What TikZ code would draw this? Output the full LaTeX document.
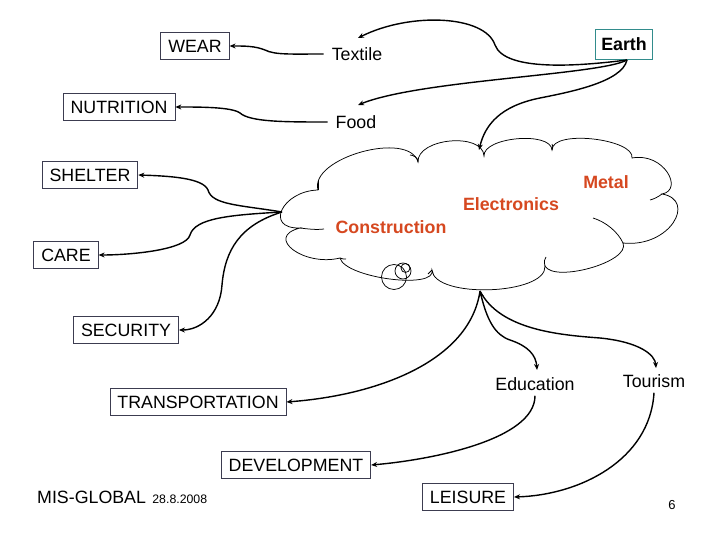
\documentclass[tikz,border=0pt]{standalone}
\usepackage{fontspec}
\setmainfont{Liberation Sans}
\usetikzlibrary{arrows.meta}
\definecolor{boxc}{RGB}{60,60,80}
\definecolor{earthc}{RGB}{50,140,140}
\definecolor{redc}{RGB}{214,72,32}
\tikzset{
  box/.style={draw=boxc, line width=0.8pt, fill=white, inner xsep=7.5pt, minimum height=27pt, font=\fontsize{17.8}{17.8}\selectfont},
  lbl/.style={inner sep=2pt, font=\fontsize{17.8}{17.8}\selectfont},
  redlbl/.style={inner sep=2pt, text=redc, font=\fontsize{17.8}{17.8}\selectfont\bfseries},
  conn/.style={line width=1.4pt, -{Stealth[length=6pt,width=5pt]}},
  cloudline/.style={line width=0.75pt}
}
\begin{document}
\begin{tikzpicture}[x=1pt,y=-1pt]
\useasboundingbox (0,0) rectangle (720,540);
% cloud
\draw[cloudline, fill=white]
 (300,228) .. controls (264,229) and (282,191) .. (318,190)
 .. controls (309,158) and (409,130) .. (418,162)
 .. controls (417,138) and (483,132) .. (484,156)
 .. controls (483,137) and (551,131) .. (552,150)
 .. controls (552,129) and (635,139) .. (632,158)
 .. controls (664,152) and (684,190) .. (662,194)
 .. controls (697,200) and (670,248) .. (623,243)
 .. controls (631,262) and (554,283) .. (545,266)
 .. controls (547,295) and (434,299) .. (432,270)
 .. controls (437,290) and (345,278) .. (340,258)
 .. controls (304,267) and (264,237) .. (300,228) -- cycle;
% interior strokes
\draw[cloudline] (300,228) .. controls (308,229) and (316,230) .. (324,229);
\draw[cloudline] (623,243) .. controls (618,232) and (606,222) .. (593,218);
\draw[cloudline] (662,194) .. controls (658,197) and (654,199) .. (650,200);
\draw[cloudline] (318,190) -- (318,181);
\draw[cloudline] (340,258) .. controls (342,259) and (344,259) .. (346,259);
\draw[cloudline] (418,162) .. controls (419,158) and (413,155) .. (410,155);
\draw[cloudline] (552,150) .. controls (553,147) and (553,146) .. (552,144);
\draw[cloudline] (545,266) .. controls (544,262) and (544,259) .. (546,257);
\draw[cloudline] (432,270) .. controls (430,272) and (429,273) .. (428,274);
% small circles
\draw[cloudline] (394,277) circle (12.5);
\draw[cloudline] (403,271) circle (8);
\draw[cloudline] (405.5,268) circle (4.5);
\coordinate (cl) at (282,212);
\coordinate (cb) at (480,291);
\coordinate (ct) at (479,150);
\coordinate (es) at (627,60);
% red labels
\node[redlbl] (metal) at (606,182) {Metal};
\node[redlbl] (electronics) at (511,204) {Electronics};
\node[redlbl] (construction) at (391,227) {Construction};
% boxes
\node[box] (wear) at (195,46) {WEAR};
\node[box, draw=earthc, font=\fontsize{17.8}{17.8}\selectfont\bfseries, minimum height=30pt, inner xsep=6pt] (earth) at (624,44) {Earth};
\node[box] (nutrition) at (119,107) {NUTRITION};
\node[box] (shelter) at (90,175) {SHELTER};
\node[box] (care) at (66,255) {CARE};
\node[box] (security) at (126,330) {SECURITY};
\node[box] (transportation) at (198,402) {TRANSPORTATION};
\node[box] (development) at (296,465) {DEVELOPMENT};
\node[box] (leisure) at (468,497) {LEISURE};
% plain labels
\node[lbl] (textile) at (357,54) {Textile};
\node[lbl] (food) at (356,122) {Food};
\node[lbl] (education) at (535,384) {Education};
\node[lbl] (tourism) at (654,381) {Tourism};
\node[lbl, anchor=base west] (mis) at (35,503) {MIS-GLOBAL};
\node[inner sep=2pt, anchor=base west, font=\fontsize{12.3}{12.3}\selectfont] (date) at ([xshift=2pt]mis.base east) {28.8.2008};
\node[inner sep=2pt, font=\fontsize{13}{13}\selectfont] (six) at (672,505) {6};
% connectors from Earth
\draw[conn] (es) .. controls (580,66) and (505,72) .. (495,45) .. controls (485,15) and (410,12) .. (358,38);
\draw[conn] (es) .. controls (600,75) and (420,80) .. (358,105);
\draw[conn] (es) .. controls (622,82) and (570,92) .. (540,98) .. controls (500,106) and (485,125) .. (ct);
% Textile / Food
\draw[conn] ([xshift=-6pt]textile.west) .. controls (290,54) and (275,55) .. (265,50) .. controls (255,46) and (245,46) .. (wear.east);
\draw[conn] ([xshift=-6pt]food.west) .. controls (285,122) and (250,122) .. (240,113) .. controls (232,107) and (200,107) .. (nutrition.east);
% from cloud left
\draw[conn] (cl) .. controls (240,205) and (212,205) .. (208,190) .. controls (203,178) and (170,176) .. (shelter.east);
\draw[conn] (cl) .. controls (230,215) and (195,218) .. (190,235) .. controls (186,250) and (130,255) .. (care.east);
\draw[conn] (cl) .. controls (240,225) and (225,250) .. (222,285) .. controls (220,315) and (200,330) .. (security.east);
% from cloud bottom
\draw[conn] (cb) .. controls (470,360) and (380,395) .. (transportation.east);
\draw[line width=1.4pt, {Stealth[length=6pt,width=5pt]}-{Stealth[length=6pt,width=5pt]}] (cb) .. controls (487,320) and (495,335) .. (510,340) .. controls (528,346) and (536,355) .. (537,370);
\draw[conn] (cb) .. controls (500,330) and (560,335) .. (600,338) .. controls (640,342) and (655,355) .. (656,368);
\draw[conn] ([yshift=-3pt]education.south) .. controls (535,440) and (430,460) .. (development.east);
\draw[conn] ([yshift=-3pt]tourism.south) .. controls (650,460) and (580,495) .. (leisure.east);
\end{tikzpicture}
\end{document}
